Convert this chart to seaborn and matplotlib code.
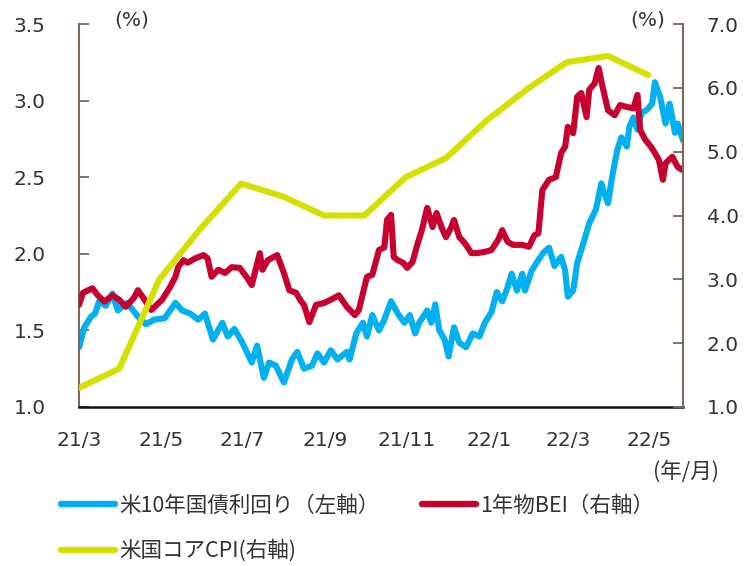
import matplotlib
matplotlib.use("Agg")
import matplotlib.pyplot as plt
import seaborn as sns
import pandas as pd
from matplotlib.lines import Line2D
from matplotlib.ticker import FormatStrFormatter
from matplotlib.font_manager import FontProperties

# ---------------- data ----------------
tick_dates = ["2021-03-01", "2021-05-01", "2021-07-01", "2021-09-01",
              "2021-11-01", "2022-01-01", "2022-03-01", "2022-05-01"]
tick_labels = ["21/3", "21/5", "21/7", "21/9", "21/11", "22/1", "22/3", "22/5"]

# US 10Y Treasury yield (left axis)
blue_dates = ["2021-03-01", "2021-03-05", "2021-03-10", "2021-03-13", "2021-03-16", "2021-03-21",
              "2021-03-26", "2021-03-30", "2021-04-06", "2021-04-14", "2021-04-20", "2021-04-26",
              "2021-05-04", "2021-05-12", "2021-05-17", "2021-05-23", "2021-05-29", "2021-06-03",
              "2021-06-09", "2021-06-16", "2021-06-20", "2021-06-25", "2021-07-01", "2021-07-08",
              "2021-07-12", "2021-07-17", "2021-07-21", "2021-07-26", "2021-08-01", "2021-08-07",
              "2021-08-11", "2021-08-16", "2021-08-22", "2021-08-26", "2021-08-31", "2021-09-05",
              "2021-09-10", "2021-09-17", "2021-09-19", "2021-09-24", "2021-09-29", "2021-10-02",
              "2021-10-06", "2021-10-11", "2021-10-15", "2021-10-20", "2021-10-25", "2021-10-30",
              "2021-11-03", "2021-11-07", "2021-11-10", "2021-11-16", "2021-11-19", "2021-11-22",
              "2021-11-25", "2021-11-29", "2021-12-02", "2021-12-06", "2021-12-10", "2021-12-15",
              "2021-12-20", "2021-12-25", "2021-12-29", "2022-01-03", "2022-01-07", "2022-01-11",
              "2022-01-15", "2022-01-18", "2022-01-22", "2022-01-26", "2022-01-28", "2022-02-02",
              "2022-02-07", "2022-02-11", "2022-02-15", "2022-02-19", "2022-02-24", "2022-02-27",
              "2022-03-01", "2022-03-05", "2022-03-08", "2022-03-14", "2022-03-17", "2022-03-22",
              "2022-03-26", "2022-03-28", "2022-03-31", "2022-04-03", "2022-04-07", "2022-04-10",
              "2022-04-14", "2022-04-16", "2022-04-19", "2022-04-22", "2022-04-25", "2022-04-29",
              "2022-05-03", "2022-05-05", "2022-05-09", "2022-05-13", "2022-05-16", "2022-05-20",
              "2022-05-22", "2022-05-26"]
blue_vals = [1.39, 1.52, 1.59, 1.61, 1.69, 1.66,
             1.74, 1.63, 1.68, 1.59, 1.54, 1.57,
             1.58, 1.68, 1.63, 1.61, 1.57, 1.61,
             1.44, 1.55, 1.46, 1.51, 1.42, 1.29,
             1.40, 1.19, 1.29, 1.27, 1.16, 1.31,
             1.36, 1.25, 1.27, 1.35, 1.29, 1.37,
             1.31, 1.36, 1.31, 1.48, 1.55, 1.46,
             1.60, 1.50, 1.57, 1.69, 1.61, 1.55,
             1.60, 1.48, 1.55, 1.63, 1.55, 1.67,
             1.50, 1.44, 1.33, 1.52, 1.42, 1.39,
             1.48, 1.46, 1.55, 1.62, 1.75, 1.69,
             1.78, 1.87, 1.76, 1.87, 1.76, 1.89,
             1.96, 2.01, 2.04, 1.92, 1.98, 1.89,
             1.72, 1.76, 1.94, 2.11, 2.20, 2.29,
             2.46, 2.40, 2.33, 2.50, 2.68, 2.76,
             2.70, 2.83, 2.89, 2.81, 2.92, 2.94,
             2.98, 3.12, 3.02, 2.85, 2.98, 2.79,
             2.85, 2.74]

# 1-year BEI (right axis)
red_dates = ["2021-03-01", "2021-03-04", "2021-03-11", "2021-03-15", "2021-03-20", "2021-03-26",
             "2021-03-31", "2021-04-05", "2021-04-11", "2021-04-14", "2021-04-19", "2021-04-24",
             "2021-05-02", "2021-05-08", "2021-05-12", "2021-05-14", "2021-05-18", "2021-05-21",
             "2021-05-27", "2021-06-02", "2021-06-05", "2021-06-08", "2021-06-13", "2021-06-18",
             "2021-06-23", "2021-06-29", "2021-07-04", "2021-07-08", "2021-07-14", "2021-07-16",
             "2021-07-20", "2021-07-27", "2021-08-01", "2021-08-05", "2021-08-10", "2021-08-14",
             "2021-08-16", "2021-08-20", "2021-08-25", "2021-08-31", "2021-09-05", "2021-09-11",
             "2021-09-17", "2021-09-23", "2021-09-26", "2021-10-02", "2021-10-06", "2021-10-11",
             "2021-10-15", "2021-10-17", "2021-10-20", "2021-10-22", "2021-10-25", "2021-10-29",
             "2021-11-01", "2021-11-05", "2021-11-09", "2021-11-12", "2021-11-16", "2021-11-20",
             "2021-11-23", "2021-11-27", "2021-11-30", "2021-12-04", "2021-12-06", "2021-12-10",
             "2021-12-14", "2021-12-19", "2021-12-23", "2021-12-29", "2022-01-03", "2022-01-08",
             "2022-01-11", "2022-01-15", "2022-01-19", "2022-01-26", "2022-01-31", "2022-02-04",
             "2022-02-07", "2022-02-10", "2022-02-15", "2022-02-20", "2022-02-24", "2022-02-27",
             "2022-03-01", "2022-03-05", "2022-03-08", "2022-03-11", "2022-03-15", "2022-03-17",
             "2022-03-21", "2022-03-24", "2022-03-27", "2022-03-31", "2022-04-05", "2022-04-09",
             "2022-04-14", "2022-04-19", "2022-04-22", "2022-04-24", "2022-04-28", "2022-05-02",
             "2022-05-05", "2022-05-08", "2022-05-11", "2022-05-13", "2022-05-18", "2022-05-22",
             "2022-05-26"]
red_vals = [2.60, 2.79, 2.86, 2.75, 2.65, 2.75,
            2.68, 2.57, 2.71, 2.83, 2.68, 2.52,
            2.68, 2.88, 3.04, 3.19, 3.30, 3.26,
            3.33, 3.38, 3.33, 3.04, 3.15, 3.10,
            3.19, 3.18, 3.04, 2.91, 3.41, 3.15,
            3.30, 3.38, 3.10, 2.83, 2.79, 2.65,
            2.60, 2.33, 2.60, 2.63, 2.68, 2.75,
            2.57, 2.44, 2.52, 3.04, 3.07, 3.46,
            3.50, 3.93, 4.01, 3.35, 3.30, 3.26,
            3.18, 3.27, 3.57, 3.77, 4.12, 3.82,
            4.04, 3.80, 3.66, 3.82, 3.93, 3.66,
            3.57, 3.41, 3.41, 3.43, 3.46, 3.62,
            3.77, 3.59, 3.54, 3.54, 3.51, 3.69,
            3.72, 4.40, 4.56, 4.60, 4.98, 5.08,
            5.39, 5.29, 5.86, 5.92, 5.54, 5.97,
            6.07, 6.31, 6.01, 5.65, 5.57, 5.73,
            5.70, 5.68, 5.89, 5.34, 5.18, 5.08,
            4.98, 4.87, 4.56, 4.82, 4.92, 4.76,
            4.71]

# US core CPI y/y (right axis, monthly)
cpi_dates = ["2021-03-01", "2021-03-31", "2021-04-30", "2021-05-31", "2021-06-30", "2021-07-31",
             "2021-08-31", "2021-09-30", "2021-10-31", "2021-11-30", "2021-12-31", "2022-01-31",
             "2022-02-28", "2022-03-31", "2022-04-30"]
cpi_vals = [1.3, 1.6, 3.0, 3.8, 4.5, 4.3, 4.0, 4.0, 4.6, 4.9, 5.5, 6.0, 6.4, 6.5, 6.2]

labels = ["米10年国債利回り（左軸）", "1年物BEI（右軸）", "米国コアCPI(右軸)"]

# ---------------- style ----------------
BLUE = "#00b0f0"
RED = "#c8002f"
YELLOW = "#d4e000"
BROWN = "#7a6a58"
TXT = "#333333"

sns.set_theme(style="white")
plt.rcParams["font.family"] = ["DejaVu Sans", "Noto Sans CJK JP"]
cjk = FontProperties(family=["Noto Sans CJK JP", "DejaVu Sans"], size=15.5)

fig = plt.figure(figsize=(7.53, 5.66), dpi=100)
ax = fig.add_axes([79 / 753, 1 - 407 / 566, 604 / 753, 383 / 566])
ax2 = ax.twinx()

lw = 4.4
kw = dict(solid_joinstyle="round", solid_capstyle="round")
sns.lineplot(x=pd.to_datetime(blue_dates), y=blue_vals, ax=ax, color=BLUE, lw=lw, **kw)
sns.lineplot(x=pd.to_datetime(red_dates), y=red_vals, ax=ax2, color=RED, lw=lw, **kw)
sns.lineplot(x=pd.to_datetime(cpi_dates), y=cpi_vals, ax=ax2, color=YELLOW, lw=lw, **kw)

ax.set_xlim(pd.Timestamp("2021-03-01"), pd.Timestamp("2022-05-26"))
ax.set_ylim(1.0, 3.5)
ax.set_yticks([1.0, 1.5, 2.0, 2.5, 3.0, 3.5])
ax2.set_ylim(1.0, 7.0)
ax2.set_yticks([1, 2, 3, 4, 5, 6, 7])
ax.yaxis.set_major_formatter(FormatStrFormatter("%.1f"))
ax2.yaxis.set_major_formatter(FormatStrFormatter("%.1f"))
ax.set_xticks(pd.to_datetime(tick_dates))
ax.set_xticklabels(tick_labels)
for a in (ax, ax2):
    a.set_xlabel("")
    a.set_ylabel("")
    a.grid(False)

ax.tick_params(axis="x", length=0, pad=17, labelsize=14.5, labelcolor=TXT)
ax.tick_params(axis="y", direction="in", length=7, width=1.3, color=BROWN,
               pad=24, labelsize=14.5, labelcolor=TXT)
ax2.tick_params(axis="y", direction="in", length=7, width=1.3, color=BROWN,
                pad=17, labelsize=14.5, labelcolor=TXT)

for a in (ax, ax2):
    a.spines["top"].set_visible(False)
ax.spines["right"].set_visible(False)
ax.spines["left"].set_color(BROWN)
ax.spines["left"].set_linewidth(1.5)
ax.spines["bottom"].set_color("#111111")
ax.spines["bottom"].set_linewidth(1.8)
ax2.spines["left"].set_visible(False)
ax2.spines["bottom"].set_visible(False)
ax2.spines["right"].set_color(BROWN)
ax2.spines["right"].set_linewidth(1.5)

fig.text(132 / 753, 1 - 20 / 566, "(%)", ha="center", va="center", fontsize=14.5, color=TXT)
fig.text(648 / 753, 1 - 20 / 566, "(%)", ha="center", va="center", fontsize=14.5, color=TXT)
fig.text(686 / 753, 1 - 472 / 566, "(年/月)", ha="center", va="center",
         fontproperties=cjk, color=TXT)

handles = [Line2D([], [], color=c, lw=4.6, solid_capstyle="round") for c in (BLUE, RED, YELLOW)]
order = [0, 2, 1]
fig.legend([handles[i] for i in order], [labels[i] for i in order],
           loc="upper left", bbox_to_anchor=(61 / 753, 1 - 495 / 566), ncol=2,
           frameon=False, prop=cjk, handlelength=2.5, handletextpad=0.2,
           columnspacing=2.0, labelspacing=1.05, borderpad=0, borderaxespad=0,
           labelcolor=TXT)

fig.savefig("out.png", dpi=100)
